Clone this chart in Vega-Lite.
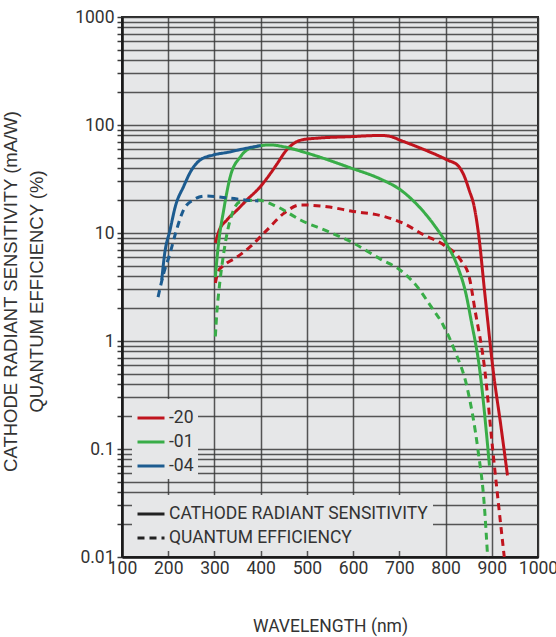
{
  "$schema": "https://vega.github.io/schema/vega-lite/v6.json",
  "autosize": "none",
  "width": 416,
  "height": 540,
  "padding": {"left": 122, "top": 17, "right": 18, "bottom": 80},
  "background": "white",
  "config": {
    "font": "Roboto",
    "view": {"fill": "#e6e7e8", "stroke": "#2a2a2a", "strokeWidth": 2},
    "axis": {"labelFont": "Roboto", "titleFont": "Roboto", "labelColor": "#333", "titleColor": "#333", "titleFontWeight": "normal"},
    "legend": {"labelFont": "Roboto"}
  },
  "data": {
    "values": [
      {"wl": 302, "val": 8.1, "series": "-20", "type": "CATHODE RADIANT SENSITIVITY"},
      {"wl": 310, "val": 10.5, "series": "-20", "type": "CATHODE RADIANT SENSITIVITY"},
      {"wl": 327, "val": 13.2, "series": "-20", "type": "CATHODE RADIANT SENSITIVITY"},
      {"wl": 350, "val": 16.5, "series": "-20", "type": "CATHODE RADIANT SENSITIVITY"},
      {"wl": 370, "val": 20.2, "series": "-20", "type": "CATHODE RADIANT SENSITIVITY"},
      {"wl": 399, "val": 26.8, "series": "-20", "type": "CATHODE RADIANT SENSITIVITY"},
      {"wl": 420, "val": 35, "series": "-20", "type": "CATHODE RADIANT SENSITIVITY"},
      {"wl": 436, "val": 44, "series": "-20", "type": "CATHODE RADIANT SENSITIVITY"},
      {"wl": 455, "val": 58, "series": "-20", "type": "CATHODE RADIANT SENSITIVITY"},
      {"wl": 472, "val": 67.7, "series": "-20", "type": "CATHODE RADIANT SENSITIVITY"},
      {"wl": 490, "val": 73, "series": "-20", "type": "CATHODE RADIANT SENSITIVITY"},
      {"wl": 522, "val": 75.5, "series": "-20", "type": "CATHODE RADIANT SENSITIVITY"},
      {"wl": 595, "val": 78, "series": "-20", "type": "CATHODE RADIANT SENSITIVITY"},
      {"wl": 660, "val": 80, "series": "-20", "type": "CATHODE RADIANT SENSITIVITY"},
      {"wl": 680, "val": 78.5, "series": "-20", "type": "CATHODE RADIANT SENSITIVITY"},
      {"wl": 703, "val": 72, "series": "-20", "type": "CATHODE RADIANT SENSITIVITY"},
      {"wl": 746, "val": 61, "series": "-20", "type": "CATHODE RADIANT SENSITIVITY"},
      {"wl": 804, "val": 47.4, "series": "-20", "type": "CATHODE RADIANT SENSITIVITY"},
      {"wl": 827, "val": 42, "series": "-20", "type": "CATHODE RADIANT SENSITIVITY"},
      {"wl": 840, "val": 34, "series": "-20", "type": "CATHODE RADIANT SENSITIVITY"},
      {"wl": 851, "val": 25, "series": "-20", "type": "CATHODE RADIANT SENSITIVITY"},
      {"wl": 862, "val": 17.5, "series": "-20", "type": "CATHODE RADIANT SENSITIVITY"},
      {"wl": 873, "val": 8.6, "series": "-20", "type": "CATHODE RADIANT SENSITIVITY"},
      {"wl": 884, "val": 3.0, "series": "-20", "type": "CATHODE RADIANT SENSITIVITY"},
      {"wl": 891, "val": 1.57, "series": "-20", "type": "CATHODE RADIANT SENSITIVITY"},
      {"wl": 902, "val": 0.58, "series": "-20", "type": "CATHODE RADIANT SENSITIVITY"},
      {"wl": 920, "val": 0.16, "series": "-20", "type": "CATHODE RADIANT SENSITIVITY"},
      {"wl": 934, "val": 0.057, "series": "-20", "type": "CATHODE RADIANT SENSITIVITY"},

      {"wl": 302, "val": 3.45, "series": "-20", "type": "QUANTUM EFFICIENCY"},
      {"wl": 308, "val": 4.4, "series": "-20", "type": "QUANTUM EFFICIENCY"},
      {"wl": 320, "val": 5.0, "series": "-20", "type": "QUANTUM EFFICIENCY"},
      {"wl": 349, "val": 6.0, "series": "-20", "type": "QUANTUM EFFICIENCY"},
      {"wl": 378, "val": 7.5, "series": "-20", "type": "QUANTUM EFFICIENCY"},
      {"wl": 414, "val": 10.7, "series": "-20", "type": "QUANTUM EFFICIENCY"},
      {"wl": 450, "val": 15.2, "series": "-20", "type": "QUANTUM EFFICIENCY"},
      {"wl": 486, "val": 18.2, "series": "-20", "type": "QUANTUM EFFICIENCY"},
      {"wl": 544, "val": 17.5, "series": "-20", "type": "QUANTUM EFFICIENCY"},
      {"wl": 595, "val": 16, "series": "-20", "type": "QUANTUM EFFICIENCY"},
      {"wl": 670, "val": 14.1, "series": "-20", "type": "QUANTUM EFFICIENCY"},
      {"wl": 710, "val": 12.2, "series": "-20", "type": "QUANTUM EFFICIENCY"},
      {"wl": 753, "val": 9.6, "series": "-20", "type": "QUANTUM EFFICIENCY"},
      {"wl": 797, "val": 7.7, "series": "-20", "type": "QUANTUM EFFICIENCY"},
      {"wl": 833, "val": 5.6, "series": "-20", "type": "QUANTUM EFFICIENCY"},
      {"wl": 851, "val": 3.95, "series": "-20", "type": "QUANTUM EFFICIENCY"},
      {"wl": 864, "val": 1.9, "series": "-20", "type": "QUANTUM EFFICIENCY"},
      {"wl": 884, "val": 0.58, "series": "-20", "type": "QUANTUM EFFICIENCY"},
      {"wl": 902, "val": 0.099, "series": "-20", "type": "QUANTUM EFFICIENCY"},
      {"wl": 927, "val": 0.01, "series": "-20", "type": "QUANTUM EFFICIENCY"},

      {"wl": 302, "val": 3.9, "series": "-01", "type": "CATHODE RADIANT SENSITIVITY"},
      {"wl": 305, "val": 5.5, "series": "-01", "type": "CATHODE RADIANT SENSITIVITY"},
      {"wl": 309, "val": 8.1, "series": "-01", "type": "CATHODE RADIANT SENSITIVITY"},
      {"wl": 320, "val": 16.3, "series": "-01", "type": "CATHODE RADIANT SENSITIVITY"},
      {"wl": 334, "val": 33, "series": "-01", "type": "CATHODE RADIANT SENSITIVITY"},
      {"wl": 356, "val": 50.7, "series": "-01", "type": "CATHODE RADIANT SENSITIVITY"},
      {"wl": 378, "val": 61, "series": "-01", "type": "CATHODE RADIANT SENSITIVITY"},
      {"wl": 421, "val": 65.4, "series": "-01", "type": "CATHODE RADIANT SENSITIVITY"},
      {"wl": 449, "val": 63, "series": "-01", "type": "CATHODE RADIANT SENSITIVITY"},
      {"wl": 500, "val": 55, "series": "-01", "type": "CATHODE RADIANT SENSITIVITY"},
      {"wl": 595, "val": 40, "series": "-01", "type": "CATHODE RADIANT SENSITIVITY"},
      {"wl": 660, "val": 31.5, "series": "-01", "type": "CATHODE RADIANT SENSITIVITY"},
      {"wl": 703, "val": 25, "series": "-01", "type": "CATHODE RADIANT SENSITIVITY"},
      {"wl": 739, "val": 18.2, "series": "-01", "type": "CATHODE RADIANT SENSITIVITY"},
      {"wl": 775, "val": 11.9, "series": "-01", "type": "CATHODE RADIANT SENSITIVITY"},
      {"wl": 804, "val": 7.7, "series": "-01", "type": "CATHODE RADIANT SENSITIVITY"},
      {"wl": 826, "val": 4.9, "series": "-01", "type": "CATHODE RADIANT SENSITIVITY"},
      {"wl": 844, "val": 2.75, "series": "-01", "type": "CATHODE RADIANT SENSITIVITY"},
      {"wl": 856, "val": 1.5, "series": "-01", "type": "CATHODE RADIANT SENSITIVITY"},
      {"wl": 873, "val": 0.58, "series": "-01", "type": "CATHODE RADIANT SENSITIVITY"},
      {"wl": 895, "val": 0.07, "series": "-01", "type": "CATHODE RADIANT SENSITIVITY"},

      {"wl": 302, "val": 1.1, "series": "-01", "type": "QUANTUM EFFICIENCY"},
      {"wl": 305, "val": 1.8, "series": "-01", "type": "QUANTUM EFFICIENCY"},
      {"wl": 309, "val": 2.75, "series": "-01", "type": "QUANTUM EFFICIENCY"},
      {"wl": 320, "val": 6.5, "series": "-01", "type": "QUANTUM EFFICIENCY"},
      {"wl": 334, "val": 13.2, "series": "-01", "type": "QUANTUM EFFICIENCY"},
      {"wl": 356, "val": 19.5, "series": "-01", "type": "QUANTUM EFFICIENCY"},
      {"wl": 392, "val": 20.2, "series": "-01", "type": "QUANTUM EFFICIENCY"},
      {"wl": 436, "val": 17.5, "series": "-01", "type": "QUANTUM EFFICIENCY"},
      {"wl": 486, "val": 13.2, "series": "-01", "type": "QUANTUM EFFICIENCY"},
      {"wl": 544, "val": 10.4, "series": "-01", "type": "QUANTUM EFFICIENCY"},
      {"wl": 595, "val": 8.3, "series": "-01", "type": "QUANTUM EFFICIENCY"},
      {"wl": 660, "val": 5.7, "series": "-01", "type": "QUANTUM EFFICIENCY"},
      {"wl": 703, "val": 4.5, "series": "-01", "type": "QUANTUM EFFICIENCY"},
      {"wl": 739, "val": 3.17, "series": "-01", "type": "QUANTUM EFFICIENCY"},
      {"wl": 768, "val": 2.1, "series": "-01", "type": "QUANTUM EFFICIENCY"},
      {"wl": 795, "val": 1.4, "series": "-01", "type": "QUANTUM EFFICIENCY"},
      {"wl": 819, "val": 0.83, "series": "-01", "type": "QUANTUM EFFICIENCY"},
      {"wl": 848, "val": 0.35, "series": "-01", "type": "QUANTUM EFFICIENCY"},
      {"wl": 870, "val": 0.099, "series": "-01", "type": "QUANTUM EFFICIENCY"},
      {"wl": 884, "val": 0.0296, "series": "-01", "type": "QUANTUM EFFICIENCY"},
      {"wl": 891, "val": 0.01, "series": "-01", "type": "QUANTUM EFFICIENCY"},

      {"wl": 186, "val": 3.67, "series": "-04", "type": "CATHODE RADIANT SENSITIVITY"},
      {"wl": 192, "val": 6.3, "series": "-04", "type": "CATHODE RADIANT SENSITIVITY"},
      {"wl": 204, "val": 10.7, "series": "-04", "type": "CATHODE RADIANT SENSITIVITY"},
      {"wl": 216, "val": 18, "series": "-04", "type": "CATHODE RADIANT SENSITIVITY"},
      {"wl": 233, "val": 26.8, "series": "-04", "type": "CATHODE RADIANT SENSITIVITY"},
      {"wl": 250, "val": 38, "series": "-04", "type": "CATHODE RADIANT SENSITIVITY"},
      {"wl": 269, "val": 47.4, "series": "-04", "type": "CATHODE RADIANT SENSITIVITY"},
      {"wl": 297, "val": 52.7, "series": "-04", "type": "CATHODE RADIANT SENSITIVITY"},
      {"wl": 330, "val": 56, "series": "-04", "type": "CATHODE RADIANT SENSITIVITY"},
      {"wl": 362, "val": 60, "series": "-04", "type": "CATHODE RADIANT SENSITIVITY"},
      {"wl": 400, "val": 64.5, "series": "-04", "type": "CATHODE RADIANT SENSITIVITY"},

      {"wl": 178, "val": 2.55, "series": "-04", "type": "QUANTUM EFFICIENCY"},
      {"wl": 190, "val": 4.2, "series": "-04", "type": "QUANTUM EFFICIENCY"},
      {"wl": 204, "val": 6.5, "series": "-04", "type": "QUANTUM EFFICIENCY"},
      {"wl": 216, "val": 10, "series": "-04", "type": "QUANTUM EFFICIENCY"},
      {"wl": 233, "val": 16.3, "series": "-04", "type": "QUANTUM EFFICIENCY"},
      {"wl": 254, "val": 20.2, "series": "-04", "type": "QUANTUM EFFICIENCY"},
      {"wl": 280, "val": 22, "series": "-04", "type": "QUANTUM EFFICIENCY"},
      {"wl": 334, "val": 21, "series": "-04", "type": "QUANTUM EFFICIENCY"},
      {"wl": 378, "val": 20, "series": "-04", "type": "QUANTUM EFFICIENCY"},
      {"wl": 395, "val": 19.8, "series": "-04", "type": "QUANTUM EFFICIENCY"}
    ]
  },
  "mark": {"type": "line", "strokeWidth": 3, "interpolate": "monotone", "clip": true},
  "encoding": {
    "x": {
      "field": "wl", "type": "quantitative",
      "scale": {"domain": [100, 1000], "nice": false, "zero": false},
      "axis": {
        "title": "WAVELENGTH (nm)",
        "values": [100, 200, 300, 400, 500, 600, 700, 800, 900, 1000],
        "format": "d",
        "grid": true, "gridColor": "#3a3a3a", "gridWidth": 1.5, "gridOpacity": 0.85,
        "domainColor": "#1a1a1a", "domainWidth": 2.5,
        "ticks": false, "labelPadding": 2,
        "labelFontSize": 17.5, "labelFlush": false, "labelOverlap": false,
        "titleFontSize": 17.5, "titleY": 69, "titleBaseline": "middle"
      }
    },
    "y": {
      "field": "val", "type": "quantitative",
      "scale": {"type": "log", "domain": [0.01, 1000], "nice": false},
      "axis": {
        "title": ["CATHODE RADIANT SENSITIVITY (mA/W)", "QUANTUM EFFICIENCY (%)"],
        "values": [0.01, 0.02, 0.03, 0.04, 0.05, 0.06, 0.07, 0.08, 0.09,
                   0.1, 0.2, 0.3, 0.4, 0.5, 0.6, 0.7, 0.8, 0.9,
                   1, 2, 3, 4, 5, 6, 7, 8, 9,
                   10, 20, 30, 40, 50, 60, 70, 80, 90,
                   100, 200, 300, 400, 500, 600, 700, 800, 900, 1000],
        "labelExpr": "abs(log(datum.value)/LN10 - round(log(datum.value)/LN10)) < 0.000001 ? format(datum.value, '~g') : ''",
        "grid": true, "gridColor": "#3a3a3a", "gridWidth": 1.5, "gridOpacity": 0.85,
        "domainColor": "#1a1a1a", "domainWidth": 2.5,
        "ticks": true, "tickSize": 5, "tickColor": "#3a3a3a", "tickWidth": 1.5,
        "labelPadding": 3, "labelFontSize": 17.5, "labelOverlap": false, "labelFlush": false,
        "titleFont": "Liberation Sans", "titleFontSize": 18.5, "titleLineHeight": 26, "titleX": -121, "titleY": 274, "titleBaseline": "top", "titleAngle": -90
      }
    },
    "color": {
      "field": "series", "type": "nominal",
      "scale": {"domain": ["-20", "-01", "-04"], "range": ["#c0141e", "#39ad48", "#1d5c90"]},
      "legend": {
        "title": null, "orient": "none", "legendX": 10, "legendY": 382,
        "fillColor": "#e6e7e8", "padding": 4, "labelFontSize": 17.5, "labelColor": "#333",
        "symbolType": "stroke", "symbolStrokeWidth": 3, "symbolSize": 729,
        "rowPadding": -7, "labelOffset": 3, "labelLimit": 400
      }
    },
    "strokeDash": {
      "field": "type", "type": "nominal",
      "scale": {"domain": ["CATHODE RADIANT SENSITIVITY", "QUANTUM EFFICIENCY"], "range": [[1, 0], [7, 5]]},
      "legend": {
        "title": null, "orient": "none", "legendX": 10, "legendY": 478,
        "fillColor": "#e6e7e8", "padding": 4, "labelFontSize": 17.5, "labelColor": "#333",
        "symbolType": "stroke", "symbolStrokeWidth": 3, "symbolSize": 729, "symbolStrokeColor": "#222",
        "symbolDash": [6, 4.5],
        "rowPadding": -9.5, "labelOffset": 3, "labelLimit": 400
      }
    }
  }
}
